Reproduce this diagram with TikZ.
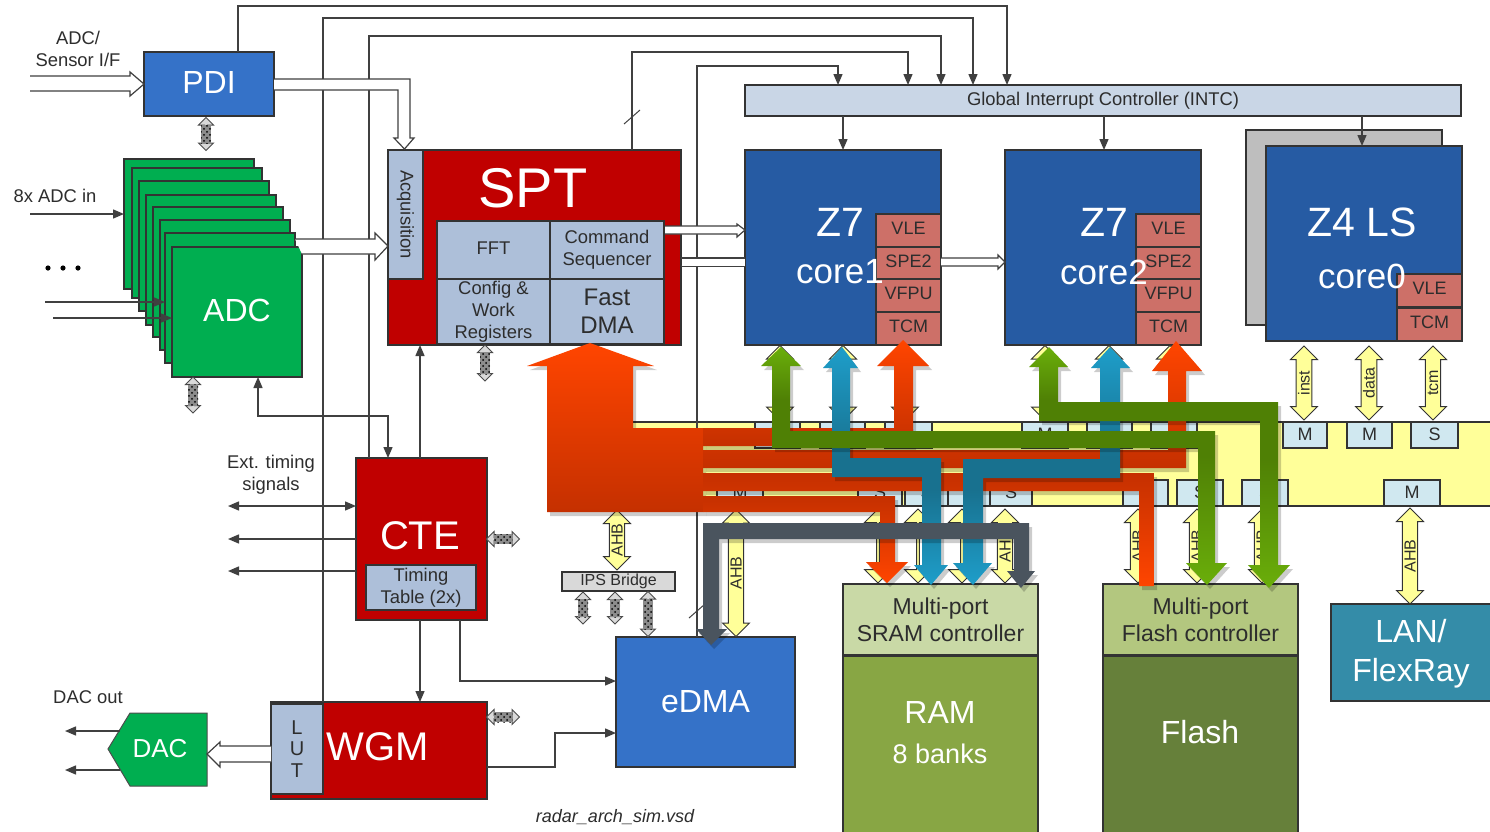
\documentclass[tikz,border=0pt]{standalone}
\usepackage{tikz}
\usepackage{xcolor}
\usepackage{fontspec}
\setmainfont{Liberation Sans}
\usetikzlibrary{calc,arrows.meta,shapes.arrows,shadows,patterns}
\definecolor{blockred}{RGB}{192,0,0}
\definecolor{paneblue}{RGB}{173,191,217}
\definecolor{dmablue}{RGB}{53,114,200}
\definecolor{coreblue}{RGB}{38,91,163}
\definecolor{subsalmon}{RGB}{205,112,104}
\definecolor{adcgreen}{RGB}{0,174,80}
\definecolor{busyellow}{RGB}{255,255,153}
\definecolor{portblue}{RGB}{208,232,240}
\definecolor{intcblue}{RGB}{201,214,230}
\definecolor{ramtop}{RGB}{201,217,166}
\definecolor{rambody}{RGB}{136,166,68}
\definecolor{flashtop}{RGB}{179,199,127}
\definecolor{flashbody}{RGB}{102,128,58}
\definecolor{lanteal}{RGB}{52,140,168}
\definecolor{shelfgrey}{RGB}{190,190,190}
\definecolor{bridgegrey}{RGB}{217,217,217}
\definecolor{inkgrey}{RGB}{45,45,45}
\definecolor{redlight}{RGB}{255,69,0}
\definecolor{reddark}{RGB}{197,48,0}
\definecolor{greenlight}{RGB}{106,174,10}
\definecolor{greendark}{RGB}{79,128,5}
\definecolor{bluelight}{RGB}{30,158,202}
\definecolor{bluedark}{RGB}{24,113,143}
\definecolor{slateflow}{RGB}{74,84,94}
\pgfdeclareverticalshading{greenflow}{100bp}{color(0bp)=(greenlight); color(25bp)=(greenlight); color(52bp)=(greendark); color(64bp)=(greendark); color(75bp)=(greenlight); color(100bp)=(greenlight)}
\pgfdeclareverticalshading{blueflow}{100bp}{color(0bp)=(bluelight); color(25bp)=(bluelight); color(45bp)=(bluedark); color(52bp)=(bluedark); color(75bp)=(bluelight); color(100bp)=(bluelight)}
\tikzset{
  blk/.style n args={2}{anchor=north west, minimum width=#1*0.5pt, minimum height=#2*0.5pt,
    inner sep=0pt, outer sep=0pt, draw=black!80, line width=0.6pt, align=center},
  sigline/.style={draw=black!75, line width=0.7pt},
  sigarrow/.style={sigline, -{Triangle[length=5.5pt,width=4.5pt]}},
  sigboth/.style={sigline, {Triangle[length=5.5pt,width=4.5pt]}-{Triangle[length=5.5pt,width=4.5pt]}},
  hollowarrow/.style={draw=black!75, fill=white, line width=0.6pt},
  buslink/.style={double arrow, draw=black!80, fill=busyellow, line width=0.5pt, minimum width=13.5pt,
    double arrow head extend=2.25pt, double arrow tip angle=90, inner sep=0pt, outer sep=0pt,
    font=\fontsize{8}{8}\selectfont, text=inkgrey, anchor=center},
  hatchbase/.style={double arrow, draw=black!70, fill=bridgegrey, line width=0.5pt, minimum width=7.5pt,
    double arrow head extend=1pt, double arrow tip angle=90, inner sep=0pt, outer sep=0pt},
  portbox/.style={blk={#1}{26}, fill=portblue, font=\fontsize{9}{9}\selectfont, text=inkgrey, text depth=1pt},
  subbox/.style={blk={65}{33}, fill=subsalmon, font=\fontsize{9}{9}\selectfont, text=inkgrey, text depth=2pt},
  flow/.style={drop shadow={shadow xshift=1.5pt, shadow yshift=-2pt, fill=black, opacity=0.2}},
  label/.style={font=\fontsize{9.2}{10}\selectfont, text=inkgrey, align=center, inner sep=0pt},
}
\newcommand{\hatchlink}[5]{%
  \node[hatchbase, minimum height=#4*0.5pt, rotate=#5] (#1) at (#2,#3) {};
  \pgfmathsetmacro{\hx}{abs(cos(#5))*(#4*0.5-7)+abs(sin(#5))*5}
  \pgfmathsetmacro{\hy}{abs(sin(#5))*(#4*0.5-7)+abs(cos(#5))*5}
  \fill[black!45] (#2-\hx,#3-\hy) rectangle (#2+\hx,#3+\hy);
  \fill[pattern=crosshatch dots, pattern color=black] (#2-\hx,#3-\hy) rectangle (#2+\hx,#3+\hy);
}
\begin{document}
\begin{tikzpicture}[x=0.5pt,y=-0.5pt]
\useasboundingbox (0,0) rectangle (1490,831);
\fill[white] (0,0) rectangle (1490,831);

% 1. SYSTEM BUS & PORTS
\node[blk={864}{84}, fill=busyellow] (BUS) at (632,422) {};
\foreach \pname/\px/\pw/\ptxt in {TA/755/45/M, TB/820/45/S, TC/885/47/S, TD/1022/46/M, TE/1087/45/M, TF/1151/46/S, TG/1283/44/M, TH/1347/45/M, TI/1411/47/S} {
    \node[portbox=\pw] (\pname) at (\px,422) {\ptxt};
}
\foreach \pname/\px/\pw/\ptxt in {BA/717/46/M, BB/858/44/S, BC/905/43/S, BD/948/42/S, BE/990/42/S, BF/1123/45/S, BG/1177/46/S, BH/1242/46/S, BI/1384/56/M} {
    \node[portbox=\pw] (\pname) at (\px,480) {\ptxt};
}

% 2. INTERRUPT CONTROLLER & CORES
\node[blk={716}{31}, fill=intcblue, label] (INTC) at (745,85) {Global Interrupt Controller (INTC)};
\node[blk={196}{195}, fill=shelfgrey] (CORE0back) at (1246,130) {};
\foreach \cname/\cx/\cy in {CORE1/745/150, CORE2/1005/150, CORE0/1266/146} {
    \node[blk={196}{195}, fill=coreblue] (\cname) at (\cx,\cy) {};
}
\foreach \sname/\sx/\sy/\stxt in {SA/876/214/VLE, SB/876/247/SPE2, SC/876/279/VFPU, SD/876/312/TCM, SE/1136/214/VLE, SF/1136/247/SPE2, SG/1136/279/VFPU, SH/1136/312/TCM, SI/1397/274/VLE, SJ/1397/308/TCM} {
    \node[subbox] (\sname) at (\sx,\sy) {\stxt};
}
\foreach \cname/\tx/\sy/\ctitle/\csub in {CORE1/840/272/Z7/core1, CORE2/1104/272/Z7/core2, CORE0/1362/276/Z4 LS/core0} {
    \node[text=white, font=\fontsize{20.5}{20.5}\selectfont, inner sep=0pt] (\cname title) at (\tx,222) {\ctitle};
    \node[text=white, font=\fontsize{17.5}{17.5}\selectfont, inner sep=0pt] (\cname sub) at (\tx,\sy) {\csub};
}

% 3. SPT
\node[blk={293}{195}, fill=blockred] (SPT) at (388,150) {};
\node[text=white, font=\fontsize{28}{28}\selectfont, inner sep=0pt] (SPTtitle) at (533,188) {SPT};
\node[blk={35}{129}, fill=paneblue] (ACQ) at (388,150) {};
\node[label, rotate=-90] (ACQtext) at (ACQ.center) {Acquisition};
\node[blk={113}{58}, fill=paneblue, label, text depth=2pt] (FFT) at (437,221) {FFT};
\node[blk={114}{58}, fill=paneblue, label] (CSEQ) at (550,221) {Command\\[1pt]Sequencer};
\node[blk={113}{65}, fill=paneblue, label] (CWR) at (437,279) {Config \&\\[1pt]Work\\[1pt]Registers};
\node[blk={114}{65}, fill=paneblue, label, font=\fontsize{12}{14}\selectfont] (FDMA) at (550,279) {Fast\\DMA};

% 4. LEFT SIDE: PDI, ADC, CTE, WGM, DAC
\node[blk={130}{64}, fill=dmablue, text=white, font=\fontsize{16}{16}\selectfont, text depth=2pt] (PDI) at (144,52) {PDI};
\foreach \ax/\ay [count=\n] in {124/159, 132/168, 139/181, 146/195, 153/207, 160/220, 165/233} {
    \node[blk={130}{130}, fill=adcgreen] (ADC\n) at (\ax,\ay) {};
}
\node[blk={130}{130}, fill=adcgreen, text=white, font=\fontsize{16}{16}\selectfont, text depth=2pt] (ADC) at (172,247) {ADC};
\node[blk={131}{162}, fill=blockred] (CTE) at (356,458) {};
\node[text=white, font=\fontsize{20}{20}\selectfont, inner sep=0pt] (CTEtitle) at (420,536) {CTE};
\node[blk={110}{45}, fill=paneblue, label] (TTAB) at (366,565) {Timing\\[1pt]Table (2x)};
\node[blk={216}{97}, fill=blockred] (WGM) at (271,702) {};
\node[text=white, font=\fontsize{20}{20}\selectfont, inner sep=0pt] (WGMtitle) at (378,747) {WGM};
\node[blk={52}{90}, fill=paneblue, label, font=\fontsize{10}{10.7}\selectfont] (LUT) at (271,704) {L\\U\\T};
\filldraw[fill=adcgreen, draw=black!70, line width=0.5pt] (207,713) -- (130,713) -- (108,749) -- (130,786) -- (207,786) -- cycle;
\node[text=white, font=\fontsize{13}{13}\selectfont, inner sep=0pt] (DAC) at (160,749) {DAC};

% 5. MEMORIES & PERIPHERALS
\node[blk={179}{130}, fill=dmablue, text=white, font=\fontsize{16}{16}\selectfont, text depth=1pt] (EDMA) at (616,637) {eDMA};
\node[blk={113}{19}, fill=bridgegrey, font=\fontsize{8}{8}\selectfont, text=inkgrey] (IPS) at (562,572) {IPS Bridge};
\node[blk={195}{71}, fill=ramtop, font=\fontsize{11.5}{13.5}\selectfont, text=inkgrey] (SRAMC) at (843,584) {Multi-port\\SRAM controller};
\node[blk={195}{180}, fill=rambody] (RAM) at (843,656) {};
\node[text=white, font=\fontsize{16}{16}\selectfont, inner sep=0pt] (RAMtitle) at (940,712) {RAM};
\node[text=white, font=\fontsize{13.5}{13.5}\selectfont, inner sep=0pt] (RAMsub) at (940,754) {8 banks};
\node[blk={195}{71}, fill=flashtop, font=\fontsize{11.5}{13.5}\selectfont, text=inkgrey] (FLASHC) at (1103,584) {Multi-port\\Flash controller};
\node[blk={195}{180}, fill=flashbody, text=white, font=\fontsize{16}{16}\selectfont] (FLASH) at (1103,656) {};
\node[text=white, font=\fontsize{16}{16}\selectfont, inner sep=0pt] (FLASHtitle) at (1200,732) {Flash};
\node[blk={170}{97}, fill=lanteal, text=white, font=\fontsize{16}{19.5}\selectfont] (LAN) at (1331,604) {};
\node[text=white, font=\fontsize{16}{19.5}\selectfont, align=center, inner sep=0pt] (LANtext) at (1411,654) {LAN/\\FlexRay};

% 6. SIGNAL LINES
% Interrupt lines into the controller
\draw[sigarrow] ($(PDI.north west)+(94,0)$) -- ++(0,-46) -| ($(INTC.north west)+(262,0)$);
\draw[sigarrow] ($(WGM.north west)+(52,0)$) -- (323,18) -| ($(INTC.north west)+(228,0)$);
\draw[sigarrow] ($(CTE.north west)+(13,0)$) -- (369,36) -| ($(INTC.north west)+(196,0)$);
\draw[sigarrow] ($(SPT.north west)+(244,0)$) -- (632,52) -| ($(INTC.north west)+(163,0)$);
\draw[sigarrow] ($(EDMA.north west)+(81,0)$) -- (697,66) -| ($(INTC.north west)+(93,0)$);
\coordinate (tickA) at (632,117);
\coordinate (tickB) at (697,611);
\foreach \tick in {tickA, tickB} {
    \draw[black!75, line width=0.5pt] ($(\tick)+(-8,7)$) -- ($(\tick)+(8,-7)$);
}
\draw[sigarrow] ($(INTC.south west)+(98,0)$) -- ($(CORE1.north west)+(98,0)$);
\draw[sigarrow] ($(INTC.south west)+(359,0)$) -- ($(CORE2.north west)+(99,0)$);
\draw[sigarrow] ($(INTC.south west)+(617,0)$) -- ($(CORE0.north west)+(96,0)$);
% ADC side
\coordinate (adcinA) at (30,214);
\coordinate (adcinB) at (45,302);
\coordinate (adcinC) at (53,318);
\draw[sigarrow] (adcinA) -- (adcinA -| ADC1.west);
\draw[sigarrow] (adcinB) -- (adcinB -| ADC7.west);
\draw[sigarrow] (adcinC) -- (adcinC -| ADC.west);
\draw[sigboth] ($(ADC.south west)+(86,0)$) -- ++(0,39) -| ($(CTE.north west)+(32,0)$);
\draw[sigarrow] ($(CTE.north west)+(64,0)$) -- ($(SPT.south west)+(32,0)$);
\coordinate (extA) at (228,506);
\coordinate (extB) at (228,539);
\coordinate (extC) at (228,571);
\draw[sigboth] (extA) -- (extA -| CTE.west);
\draw[sigarrow] (extB -| CTE.west) -- (extB);
\draw[sigarrow] (extC -| CTE.west) -- (extC);
\draw[sigarrow] ($(CTE.south west)+(64,0)$) -- ($(WGM.north west)+(149,0)$);
\draw[sigarrow] ($(CTE.south west)+(104,0)$) |- ($(EDMA.north west)+(0,44)$);
\draw[sigarrow] ($(WGM.south east)+(0,-32)$) -- ++(68,0) |- ($(EDMA.north west)+(0,96)$);
% DAC outputs
\coordinate (dacA) at (65,731);
\coordinate (dacB) at (65,770);
\draw[sigarrow] (120,731) -- (dacA);
\draw[sigarrow] (120,770) -- (dacB);

% 7. HOLLOW DATA PATHS
\draw[hollowarrow] (30,76) -- ++(100,0) -- ++(0,-4) -- (PDI.west) -- ++(-14,12) -- ++(0,-5) -- ++(-100,0);
\draw[hollowarrow] (PDI.east) ++(0,-5) -- (410,79) -- (410,138) -- (414,138) -- ($(ACQ.north)+(-1,-1)$) -- (394,138) -- (398,138) -- (398,90) -- (274,90);
\draw[hollowarrow] (295,239) -- (375,239) -- (375,233) -- (388,246) -- (375,260) -- (375,254) -- (302,254);
\draw[hollowarrow] (665,226) -- (737,226) -- (737,224) -- (745,230) -- (737,237) -- (737,234) -- (665,234);
\draw[hollowarrow] (681,258) -- (745,258) (745,266) -- (681,266);
\fill[white] (681.5,258.5) rectangle (744.5,265.5);
\draw[hollowarrow] (941,258) -- (998,258) -- (998,255) -- (1005,262) -- (998,269) -- (998,266) -- (941,266);
\draw[hollowarrow] (271,746) -- (220,746) -- (220,742) -- (207,754) -- (220,767) -- (220,762) -- (271,762);

% 8. BUS LINKS
\foreach \lx/\ly/\llen [count=\n] in {780/383/75, 843/383/75, 905/383/75, 1045/383/75, 1109/383/75, 1170/383/75, 878/546/74, 918/546/74, 962/546/74} {
    \node[buslink, rotate=90, minimum height=\llen*0.5pt] (LINKplain\n) at (\lx,\ly) {};
}
\foreach \lx/\ly/\llen/\ltxt [count=\n] in {617/540/60/AHB, 736/573/127/AHB, 1005/546/74/AHB, 1138/546/74/AHB, 1197/546/74/AHB, 1262/546/74/AHB, 1410/556/96/AHB} {
    \node[buslink, rotate=90, minimum height=\llen*0.5pt] (LINK\n) at (\lx,\ly) {\ltxt};
}
\foreach \lx/\ltxt [count=\n] in {1304/inst, 1369/data, 1433/tcm} {
    \node[buslink, rotate=90, minimum height=37pt] (LINKcore\n) at (\lx,383) {\ltxt};
}
\hatchlink{HLpdi}{206}{134}{33}{90}
\hatchlink{HLadc}{193}{395}{36}{90}
\hatchlink{HLspt}{485}{363}{36}{90}
\hatchlink{HLcte}{503}{539}{33}{0}
\hatchlink{HLwgm}{503}{717}{33}{0}
\hatchlink{HLipsA}{583}{608}{32}{90}
\hatchlink{HLipsB}{615}{608}{32}{90}
\hatchlink{HLipsC}{648}{614}{45}{90}

% 9. THICK TRAFFIC ARROWS
% Red
\shade[top color=redlight, bottom color=reddark, flow] (590,343) -- (654,366) -- (633,366) -- (633,428) -- (703,428) -- (703,512) -- (547,512) -- (547,366) -- (527,366) -- cycle;
\shade[top color=redlight, bottom color=reddark, flow] (903,340) -- (929,366) -- (913,366) -- (913,446) -- (703,446) -- (703,428) -- (894,428) -- (894,366) -- (877,366) -- cycle;
\shade[top color=redlight, bottom color=reddark, flow] (1176,341) -- (1202,371) -- (1186,371) -- (1186,468) -- (703,468) -- (703,450) -- (1168,450) -- (1168,371) -- (1152,371) -- cycle;
\shade[top color=reddark, bottom color=redlight, flow] (703,473) -- (1154,473) -- (1154,586) -- (1139,586) -- (1139,491) -- (703,491) -- cycle;
\shade[top color=reddark, bottom color=redlight, flow] (703,496) -- (895,496) -- (895,562) -- (908,562) -- (887,583) -- (866,562) -- (880,562) -- (880,512) -- (703,512) -- cycle;
% Blue
\path[shading=blueflow, flow] (842,347) -- (858,368) -- (850,368) -- (850,458) -- (941,458) -- (941,565) -- (948,565) -- (931,585) -- (914,565) -- (922,565) -- (922,477) -- (832,477) -- (832,368) -- (823,368) -- cycle;
\path[shading=blueflow, flow] (1110,347) -- (1130,368) -- (1120,368) -- (1120,478) -- (983,478) -- (983,563) -- (992,563) -- (973,585) -- (953,563) -- (963,563) -- (963,459) -- (1100,459) -- (1100,368) -- (1091,368) -- cycle;
% Green
\path[shading=greenflow, flow] (781,347) -- (801,366) -- (790,366) -- (790,431) -- (1215,431) -- (1215,563) -- (1227,563) -- (1207,585) -- (1186,563) -- (1198,563) -- (1198,448) -- (772,448) -- (772,366) -- (761,366) -- cycle;
\path[shading=greenflow, flow] (1049,347) -- (1068,367) -- (1058,367) -- (1058,402) -- (1278,402) -- (1278,565) -- (1290,565) -- (1269,588) -- (1248,565) -- (1260,565) -- (1260,421) -- (1039,421) -- (1039,367) -- (1029,367) -- cycle;
% Grey
\fill[slateflow, flow] (1029,523) -- (1029,571) -- (1035,571) -- (1021,588) -- (1007,571) -- (1014,571) -- (1014,539) -- (719,539) -- (719,629) -- (727,629) -- (711,645) -- (696,629) -- (703,629) -- (703,523) -- cycle;

% 10. LABELS
\node[label] (lblsensor) at (78,49) {ADC/\\[1pt]Sensor I/F};
\node[label] (lbladcin) at (55,196) {8x ADC in};
\node[label] (lbltiming) at (271,475) {Ext. timing\\[1pt]signals};
\node[label] (lbldacout) at (88,697) {DAC out};
\node[label, font=\fontsize{9}{10}\selectfont\itshape] (lblfile) at (615,817) {radar\_arch\_sim.vsd};
\foreach \dx in {48,63,78} {
    \fill[black] (\dx,268) circle (1.3pt);
}

\end{tikzpicture}
\end{document}
